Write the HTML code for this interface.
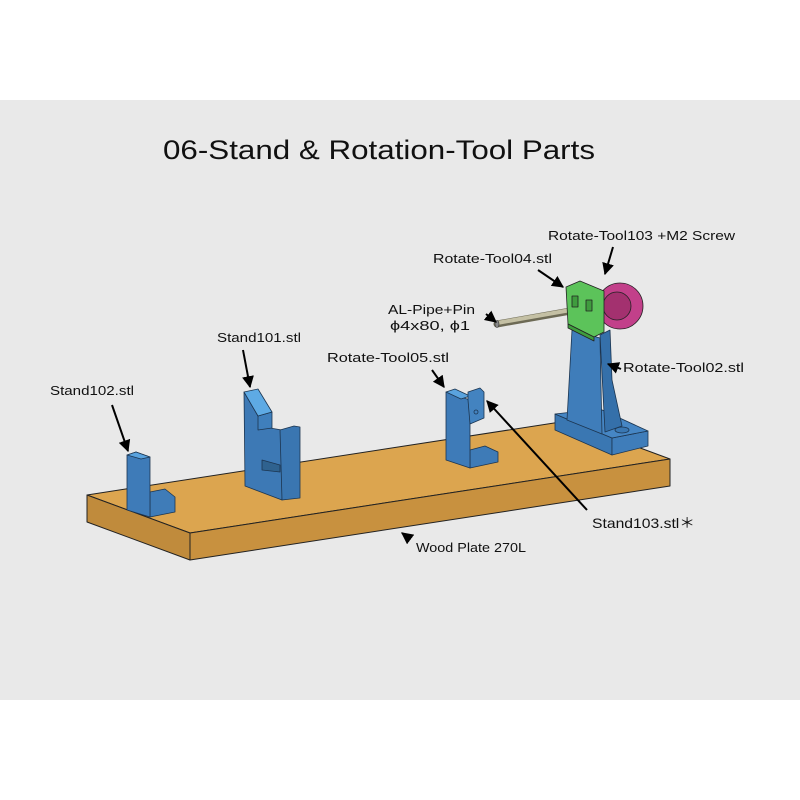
<!DOCTYPE html>
<html><head><meta charset="utf-8"><style>
html,body{margin:0;padding:0;background:#fff;}
svg{display:block;}
text{font-family:"Liberation Sans","Noto Sans CJK JP",sans-serif;fill:#111;}
</style></head><body>
<svg width="800" height="800" viewBox="0 0 800 800" xmlns="http://www.w3.org/2000/svg">
<defs>
<marker id="ah" viewBox="0 0 10 10" refX="9" refY="5" markerWidth="6" markerHeight="6" orient="auto"><path d="M0,0 L10,5 L0,10 z" fill="#000"/></marker>
</defs>
<rect x="0" y="100" width="800" height="600" fill="#e9e9e9"/>
<text x="163" y="159" font-size="27" textLength="432" lengthAdjust="spacingAndGlyphs">06-Stand &amp; Rotation-Tool Parts</text>

<g stroke="#222" stroke-width="1" stroke-linejoin="round">
<polygon points="87,495 190,533 670,459 567,421" fill="#dca54f"/>
<polygon points="87,495 190,533 190,560 87,522" fill="#c08b3c"/>
<polygon points="190,533 670,459 670,486 190,560" fill="#c8913f"/>
</g>

<g stroke="#1c3550" stroke-width="0.8" stroke-linejoin="round">
<polygon points="150,492 165,489 175,497 175,512 150,517" fill="#3f7cb8"/>
<polygon points="127,455 136,452 150,457 150,517 127,510" fill="#3e7bb8"/>
<polygon points="127,455 136,452 150,457 141,459" fill="#5aa3de"/>
<polygon points="244,392 258,416 270,428 282,430 282,500 245,486" fill="#3d79b5"/>
<polygon points="258,416 272,412 272,428 258,430" fill="#3f7fbc"/>
<polygon points="244,392 258,389 272,412 258,416" fill="#5eaae4"/>
<polygon points="280,430 294,426 300,427 300,498 282,500" fill="#3a76b1"/>
<polygon points="262,460 280,465 280,472 262,470" fill="#2f628f"/>
<polygon points="470,450 485,446 498,452 498,462 470,468" fill="#3e7bb7"/>
<polygon points="446,392 470,400 470,468 446,460" fill="#3e7bb8"/>
<polygon points="446,392 455,389 470,396 461,399" fill="#5aa3de"/>
<polygon points="468,392 480,388 484,392 484,418 470,424 468,400" fill="#4383c0"/>
<circle cx="476" cy="412" r="2" fill="none" stroke="#1c3550"/>
<polygon points="555,414 612,438 612,455 555,430" fill="#3a77b2"/>
<polygon points="612,438 648,431 648,446 612,455" fill="#3f7dba"/>
<polygon points="555,414 600,409 648,431 612,438" fill="#4686c4"/>
<ellipse cx="622" cy="430" rx="7" ry="3" fill="#3a77b2"/>
<polygon points="600,335 610,330 612,380 622,426 605,432" fill="#3570aa"/>
<polygon points="572,330 600,338 602,434 567,420" fill="#3f7dba"/>
</g>
<line x1="497" y1="324" x2="582" y2="309" stroke="#6d6a55" stroke-width="7" stroke-linecap="round"/>
<line x1="497" y1="323" x2="582" y2="308" stroke="#c4c0a4" stroke-width="4" stroke-linecap="round"/>
<ellipse cx="497" cy="324" rx="2" ry="3.5" fill="#888" stroke="#333" stroke-width="0.6"/>
<g stroke="#222" stroke-width="0.8" stroke-linejoin="round">
<circle cx="620" cy="306" r="23" fill="#c2408a"/>
<circle cx="617" cy="306" r="14" fill="#a3316f"/>
<polygon points="566,287 580,281 604,291 604,332 594,337 568,324" fill="#5cc35a"/>
<polygon points="568,324 594,337 594,341 568,328" fill="#3f9c3e"/>
<rect x="572" y="296" width="6" height="11" fill="#3f9c3e"/>
<rect x="586" y="300" width="6" height="11" fill="#3f9c3e"/>
</g>

<g stroke="#000" stroke-width="2" fill="none" marker-end="url(#ah)">
<line x1="112" y1="405" x2="128" y2="451"/>
<line x1="243" y1="350" x2="250" y2="387"/>
<line x1="432" y1="370" x2="444" y2="387"/>
<line x1="587" y1="510" x2="487" y2="401"/>
<line x1="410" y1="539" x2="402" y2="533"/>
<line x1="538" y1="270" x2="563" y2="287"/>
<line x1="613" y1="247" x2="605" y2="274"/>
<line x1="486" y1="314" x2="496" y2="322"/>
<line x1="621" y1="369" x2="608" y2="364"/>
</g>

<g font-size="13">
<text x="50" y="395" textLength="84" lengthAdjust="spacingAndGlyphs">Stand102.stl</text>
<text x="217" y="342" textLength="84" lengthAdjust="spacingAndGlyphs">Stand101.stl</text>
<text x="327" y="362" textLength="122" lengthAdjust="spacingAndGlyphs">Rotate-Tool05.stl</text>
<text x="388" y="314" textLength="87" lengthAdjust="spacingAndGlyphs">AL-Pipe+Pin</text>
<text x="390" y="330" textLength="80" lengthAdjust="spacingAndGlyphs">ϕ4x80, ϕ1</text>
<text x="433" y="263" textLength="119" lengthAdjust="spacingAndGlyphs">Rotate-Tool04.stl</text>
<text x="548" y="240" textLength="187" lengthAdjust="spacingAndGlyphs">Rotate-Tool103 +M2 Screw</text>
<text x="623" y="372" textLength="121" lengthAdjust="spacingAndGlyphs">Rotate-Tool02.stl</text>
<text x="592" y="528" font-size="14" textLength="103" lengthAdjust="spacingAndGlyphs">Stand103.stl＊</text>
<text x="416" y="552" textLength="110" lengthAdjust="spacingAndGlyphs">Wood Plate 270L</text>
</g>
</svg>
</body></html>
